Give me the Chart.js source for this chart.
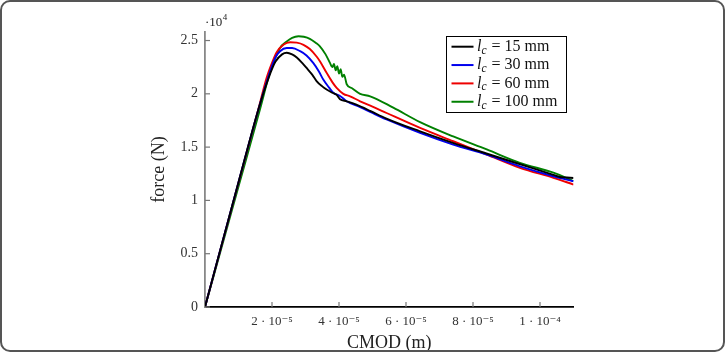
<!DOCTYPE html>
<html>
<head>
<meta charset="utf-8">
<script src="https://cdn.jsdelivr.net/npm/chart.js@4/dist/chart.umd.min.js"></script>
<style>
  html, body { margin: 0; padding: 0; background: #fff; }
  #wrap { position: relative; width: 725px; height: 352px; }
  #frame { position: absolute; left: 0; top: 0; width: 725px; height: 352px; box-sizing: border-box;
           border: 2px solid #555; border-radius: 10px; pointer-events: none; }
</style>
</head>
<body>
<div id="wrap">
  <canvas id="grafica" width="725" height="352"></canvas>
  <div id="frame"></div>
</div>
<script>
// datos: CMOD en micrometros, fuerza en N
const lcValues = [15, 30, 60, 100]
const colores = ['#000000', '#0000ee', '#ee0000', '#008000']

const cmod15 = [0, 10, 16, 19, 21, 23, 24.4, 26, 27.4, 29, 30.4, 32, 33.3, 35, 36.3, 38, 39.3, 40.3, 42.3, 45, 49.3, 54, 64, 74, 84, 91, 98, 104, 106, 108, 110]
const force15 = [0, 11700, 18600, 21500, 23000, 23700, 23850, 23700, 23400, 22900, 22400, 21800, 21200, 20700, 20400, 20100, 19900, 19500, 19300, 19000, 18400, 17700, 16500, 15400, 14400, 13700, 13000, 12400, 12200, 12150, 12100]

const cmod30 = [0, 10, 16, 19, 21, 22.4, 24.4, 26, 28.4, 30.3, 32.3, 34, 35.3, 37, 38.3, 40.3, 42.3, 46.3, 50, 54.2, 64.2, 74.1, 84.1, 94, 104, 110]
const force30 = [0, 11700, 18600, 21700, 23400, 24000, 24300, 24300, 24000, 23600, 22900, 22100, 21340, 20600, 20100, 19800, 19300, 18750, 18200, 17600, 16340, 15240, 14300, 13200, 12270, 11800]

const cmod60 = [0, 10, 15.9, 18.4, 20, 21.4, 23.4, 25.4, 27.4, 29.4, 31.3, 33.3, 34.3, 36.3, 38, 39.3, 41.3, 43.3, 46.3, 50, 54.2, 64.2, 74.1, 84.1, 94, 104, 110]
const force60 = [0, 11650, 18530, 21500, 22900, 23900, 24600, 24840, 24800, 24600, 24200, 23500, 23060, 21970, 21100, 20560, 20000, 19770, 19300, 18800, 18200, 16800, 15550, 14300, 13060, 12120, 11490]

const cmod100 = [0, 10, 16.4, 19.4, 22.4, 24.4, 26, 27.9, 29.5, 31.3, 33, 34.3, 36, 37.3, 38, 38.5, 39, 39.5, 40, 40.5, 41, 41.5, 42.3, 44, 46.3, 49.3, 56.2, 64.2, 74.1, 84.1, 94, 104, 108, 110]
const force100 = [0, 11300, 18530, 22000, 24300, 24900, 25250, 25400, 25350, 25160, 24800, 24460, 23700, 22900, 22500, 22800, 22200, 22600, 21900, 22300, 21600, 21800, 20900, 20500, 20000, 19770, 18700, 17350, 16000, 14780, 13530, 12600, 12100, 11800]

const xTicks = [2e-5, 4e-5, 6e-5, 8e-5, 1e-4]
const xTickLabels = ['2 · 10⁻⁵', '4 · 10⁻⁵', '6 · 10⁻⁵', '8 · 10⁻⁵', '1 · 10⁻⁴']
const yTicks = [0, 5000, 10000, 15000, 20000, 25000]
const yTickLabels = ['0', '0.5', '1', '1.5', '2', '2.5']

const series = [[cmod15, force15], [cmod30, force30], [cmod60, force60], [cmod100, force100]]
const SERIF = "'Liberation Serif', 'DejaVu Serif', serif"

// marcas de los ejes hacia dentro, leyenda y el factor 10^4
const extras = {
  id: 'extras',
  afterDraw(chart) {
    const ctx = chart.ctx
    const xs = chart.scales.x
    const ys = chart.scales.y
    const area = chart.chartArea
    ctx.save()
    ctx.strokeStyle = '#777'
    ctx.lineWidth = 1.2
    yTicks.forEach(v => {
      const py = ys.getPixelForValue(v)
      ctx.beginPath(); ctx.moveTo(area.left, py); ctx.lineTo(area.left + 5, py); ctx.stroke()
    })
    xTicks.forEach(v => {
      const px = xs.getPixelForValue(v)
      ctx.beginPath(); ctx.moveTo(px, area.bottom); ctx.lineTo(px, area.bottom - 5); ctx.stroke()
    })

    // factor ·10^4
    ctx.fillStyle = '#222'
    ctx.textBaseline = 'alphabetic'
    ctx.textAlign = 'left'
    ctx.font = `13px ${SERIF}`
    ctx.fillText('·10', area.left, 26)
    const w = ctx.measureText('·10').width
    ctx.font = `9px ${SERIF}`
    ctx.fillText('4', area.left + w + 0.5, 20)

    // leyenda
    const bx = 446, by = 36, bw = 120, bh = 76
    ctx.fillStyle = '#fff'
    ctx.fillRect(bx, by, bw, bh)
    ctx.strokeStyle = '#000'
    ctx.lineWidth = 1
    ctx.strokeRect(bx + 0.5, by + 0.5, bw, bh)
    chart.data.datasets.forEach((ds, i) => {
      const yy = 46.7 + i * 18.35
      ctx.strokeStyle = ds.borderColor
      ctx.lineWidth = 2
      ctx.beginPath(); ctx.moveTo(451.5, yy); ctx.lineTo(473.5, yy); ctx.stroke()
      ctx.fillStyle = '#111'
      ctx.textBaseline = 'middle'
      let tx = 477
      ctx.font = `italic 16px ${SERIF}`
      ctx.fillText('l', tx, yy)
      tx += ctx.measureText('l').width
      ctx.font = `italic 11.5px ${SERIF}`
      ctx.fillText('c', tx, yy + 4)
      tx += ctx.measureText('c').width + 1
      ctx.font = `16px ${SERIF}`
      ctx.fillText(` = ${lcValues[i]} mm`, tx, yy)
    })
    ctx.restore()
  }
}

const canva = document.querySelector('#grafica')
const myChart = new Chart(canva, {
  type: 'line',
  data: {
    datasets: series.map((s, i) => ({
      label: `lc = ${lcValues[i]} mm`,
      data: s[0].map((c, k) => ({ x: c * 1e-6, y: s[1][k] })),
      borderColor: colores[i],
      backgroundColor: colores[i],
      borderWidth: 1.9,
      pointRadius: 0,
      cubicInterpolationMode: 'monotone',
      fill: false
    }))
  },
  options: {
    responsive: false,
    animation: false,
    devicePixelRatio: 1,
    layout: { padding: { left: 0, top: 32, right: 151.5, bottom: 0 } },
    plugins: { legend: { display: false }, tooltip: { enabled: false } },
    scales: {
      x: {
        type: 'linear',
        min: 0,
        max: 1.1e-4,
        afterFit: s => { s.height = 45 },
        afterBuildTicks: s => { s.ticks = xTicks.map(v => ({ value: v })) },
        grid: { display: true, drawOnChartArea: false, drawTicks: false },
        border: { display: true, color: '#000', width: 1.8 },
        ticks: {
          padding: 7,
          color: '#333',
          font: { family: SERIF, size: 13 },
          maxRotation: 0,
          callback: (v, idx) => xTickLabels[idx]
        },
        title: {
          display: true,
          text: 'CMOD (m)',
          color: '#222',
          font: { family: SERIF, size: 18, lineHeight: 1 },
          padding: { top: 0, bottom: 0 }
        }
      },
      y: {
        type: 'linear',
        min: 0,
        max: 25800,
        afterFit: s => { s.width = 205 },
        afterBuildTicks: s => { s.ticks = yTicks.map(v => ({ value: v })) },
        grid: { display: true, drawOnChartArea: false, drawTicks: false },
        border: { display: true, color: '#888', width: 1.8 },
        ticks: {
          padding: 7,
          color: '#333',
          font: { family: SERIF, size: 14 },
          callback: (v, idx) => yTickLabels[idx]
        },
        title: {
          display: true,
          text: 'force (N)',
          color: '#222',
          font: { family: SERIF, size: 18, lineHeight: 1.2 },
          padding: { top: 148, bottom: 0 }
        }
      }
    }
  },
  plugins: [extras]
})
</script>
</body>
</html>
